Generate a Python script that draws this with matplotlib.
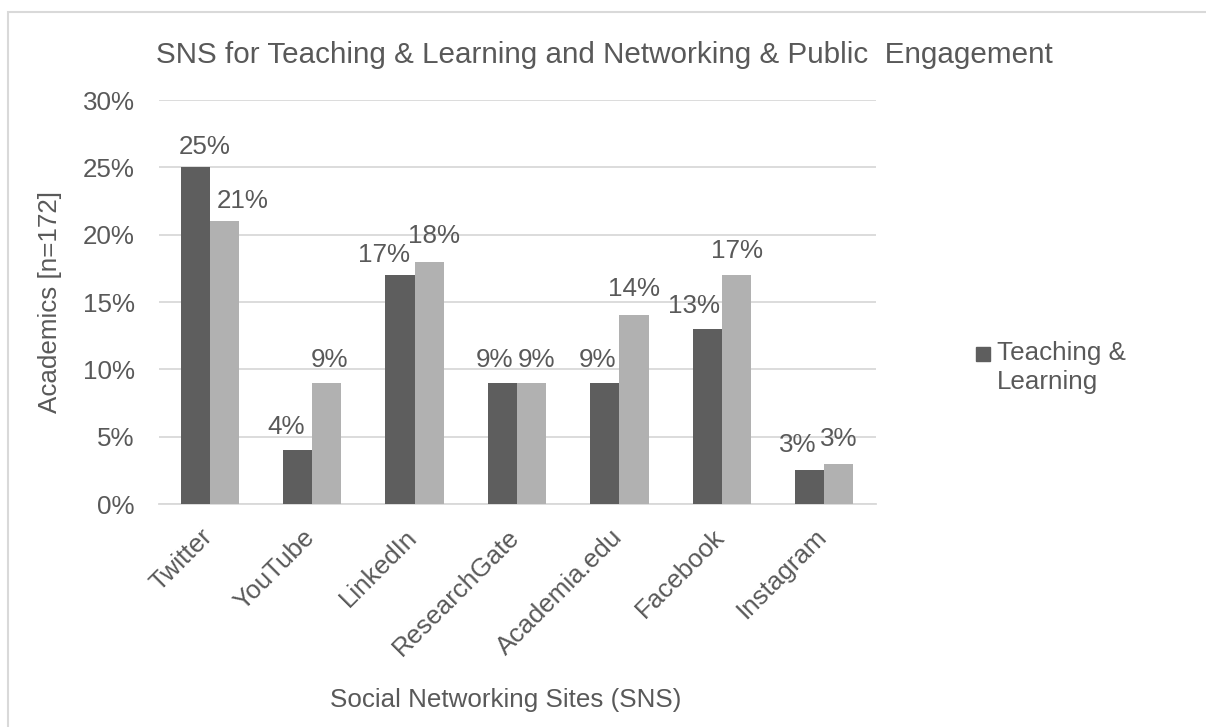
import matplotlib.pyplot as plt
import numpy as np
from matplotlib.patches import Rectangle
from matplotlib.ticker import PercentFormatter
from matplotlib.transforms import ScaledTranslation

plt.rcParams['font.family'] = ['Liberation Sans', 'DejaVu Sans']

sites = ['Twitter', 'YouTube', 'LinkedIn', 'ResearchGate', 'Academia.edu', 'Facebook', 'Instagram']
teaching = [25, 4, 17, 9, 9, 13, 2.5]
networking = [21, 9, 18, 9, 14, 17, 3]
teaching_labels = ['25%', '4%', '17%', '9%', '9%', '13%', '3%']
networking_labels = ['21%', '9%', '18%', '9%', '14%', '17%', '3%']

# label nudges in pixels (dx, extra dy), as placed by hand in the original
teaching_nudge = [(10, 0), (-11, 3), (-16, 0), (-8, 3), (-7, 3), (-13, 3), (-12, 5)]
networking_nudge = [(18, 0), (3, 3), (5, 6), (5, 3), (0, 6), (1, 4), (0, 5)]

TEXT = '#595959'
DARK = '#5e5e5e'
LIGHT = '#b1b1b1'
GRID = '#d9d9d9'
FS = 18.7

W, H = 1206, 727
fig = plt.figure(figsize=(W / 100, H / 100), dpi=100)
ax = fig.add_axes([158.5 / W, 1 - 504 / H, 717 / W, 404 / H])

x = np.arange(len(sites))
w = 0.284
b1 = ax.bar(x - w / 2, teaching, w, color=DARK, zorder=3)
b2 = ax.bar(x + w / 2, networking, w, color=LIGHT, zorder=3)

for bars, labels, nudges in [(b1, teaching_labels, teaching_nudge), (b2, networking_labels, networking_nudge)]:
    for bar, lab, (dx, dy) in zip(bars, labels, nudges):
        ax.annotate(lab, (bar.get_x() + bar.get_width() / 2, bar.get_height()),
                    xytext=(dx, 13 + dy), textcoords='offset pixels',
                    ha='center', va='baseline', fontsize=FS, color=TEXT)

ax.set_xlim(-0.5, len(sites) - 0.5)
ax.set_ylim(0, 30)
ax.set_yticks(range(0, 31, 5))
ax.yaxis.set_major_formatter(PercentFormatter(decimals=0))
ax.grid(axis='y', color=GRID, linewidth=1.3, zorder=0)
for s in ['top', 'right', 'left']:
    ax.spines[s].set_visible(False)
ax.spines['bottom'].set_color(GRID)
ax.spines['bottom'].set_linewidth(1.3)
ax.tick_params(axis='y', length=0, labelsize=FS, colors=TEXT, pad=17)
ax.tick_params(axis='x', length=0, labelsize=FS, colors=TEXT, pad=21)
ax.set_xticks(x)
ax.set_xticklabels(sites, rotation=45, ha='right', va='center', rotation_mode='anchor')
shift = ScaledTranslation(-1 / 100, 0, fig.dpi_scale_trans)
for lab in ax.get_xticklabels():
    lab.set_transform(lab.get_transform() + shift)

fig.text(604 / W, 1 - 55 / H, 'SNS for Teaching & Learning and Networking & Public  Engagement',
         ha='center', va='center', fontsize=21.3, color=TEXT)
fig.text(50 / W, 1 - 302 / H, 'Academics [n=172]', rotation=90,
         ha='center', va='center', fontsize=FS, color=TEXT)
fig.text(506 / W, 1 - 700 / H, 'Social Networking Sites (SNS)',
         ha='center', va='center', fontsize=FS, color=TEXT)

# legend (only the first series is listed in the original)
fig.patches.append(Rectangle((976 / W, 1 - 361 / H), 14 / W, 14 / H,
                             transform=fig.transFigure, color=DARK))
fig.text(997 / W, 1 - 341 / H, 'Teaching &\nLearning', ha='left', va='top',
         fontsize=FS, color=TEXT, linespacing=1.27)

fig.patches.append(Rectangle((8 / W, -0.1), 1.2, 1.1 - 12 / H, transform=fig.transFigure,
                             fill=False, edgecolor=GRID, linewidth=1.5))

fig.savefig('out.png', dpi=100)
